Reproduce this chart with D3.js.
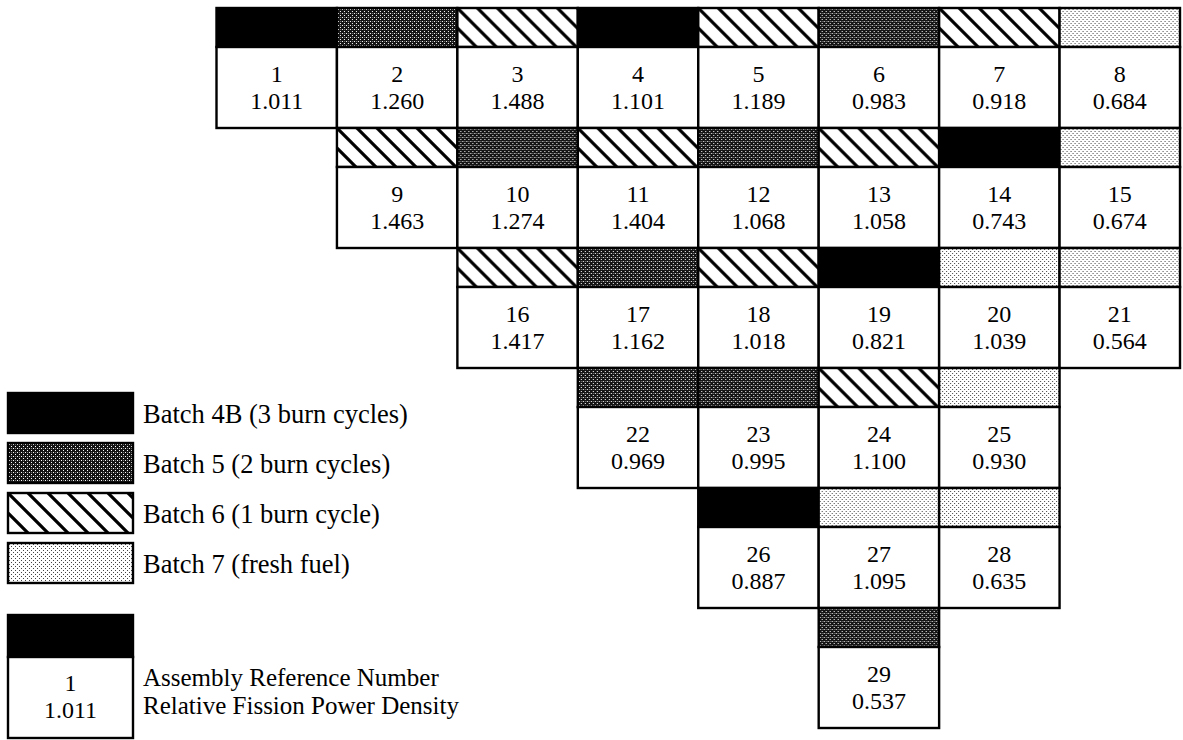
<!DOCTYPE html>
<html>
<head>
<meta charset="utf-8">
<script src="https://cdn.jsdelivr.net/npm/d3@7"></script>
<style>
  html, body { margin: 0; padding: 0; background: #fff; }
  svg { display: block; }
  text { font-family: "Liberation Serif", "Times New Roman", serif; fill: #000; }
</style>
</head>
<body>
<svg id="chart" width="1183" height="740"></svg>
<script>
// ---- data ----
const assemblyIds = [1,2,3,4,5,6,7,8, 9,10,11,12,13,14,15, 16,17,18,19,20,21, 22,23,24,25, 26,27,28, 29];
const powerDensity = ["1.011","1.260","1.488","1.101","1.189","0.983","0.918","0.684",
                      "1.463","1.274","1.404","1.068","1.058","0.743","0.674",
                      "1.417","1.162","1.018","0.821","1.039","0.564",
                      "0.969","0.995","1.100","0.930",
                      "0.887","1.095","0.635",
                      "0.537"];
const batchOf = ["4B","5","6","4B","6","5","6","7",
                 "6","5","6","5","6","4B","7",
                 "6","5","6","4B","7","7",
                 "5","5","6","7",
                 "4B","7","7",
                 "5"];
// core map layout: assemblies per row, and first column of each row
const rowCounts = [8,7,6,4,3,1];
const rowStartCol = [0,1,2,3,4,5];
const batches = ["4B","5","6","7"];
const batchLabels = ["Batch 4B (3 burn cycles)","Batch 5 (2 burn cycles)","Batch 6 (1 burn cycle)","Batch 7 (fresh fuel)"];
const keyNumber = "1";
const keyValue = "1.011";
const keyLabels = ["Assembly Reference Number","Relative Fission Power Density"];

// build cell records
const cells = [];
let k = 0;
rowCounts.forEach((n, r) => {
  for (let i = 0; i < n; i++) {
    cells.push({id: assemblyIds[k], val: powerDensity[k], batch: batchOf[k], row: r, col: rowStartCol[r] + i});
    k++;
  }
});

const svg = d3.select("#chart");
const defs = svg.append("defs");

// dark dots pattern (batch 5)
const pDark = defs.append("pattern").attr("id","pDark").attr("patternUnits","userSpaceOnUse")
  .attr("width",4).attr("height",4);
pDark.append("rect").attr("width",4).attr("height",4).attr("fill","#151515");
pDark.append("rect").attr("x",1).attr("y",1).attr("width",1).attr("height",1).attr("fill","#fff");
pDark.append("rect").attr("x",3).attr("y",3).attr("width",1).attr("height",1).attr("fill","#fff");
pDark.append("rect").attr("x",3).attr("y",1).attr("width",1).attr("height",1).attr("fill","#777");

// light dots pattern (batch 7)
const pLight = defs.append("pattern").attr("id","pLight").attr("patternUnits","userSpaceOnUse")
  .attr("width",4).attr("height",4);
pLight.append("rect").attr("width",4).attr("height",4).attr("fill","#fff");
pLight.append("rect").attr("x",1).attr("y",1).attr("width",1).attr("height",1).attr("fill","#444");
pLight.append("rect").attr("x",3).attr("y",3).attr("width",1).attr("height",1).attr("fill","#444");

// hatch pattern (batch 6)
const pHatch = defs.append("pattern").attr("id","pHatch").attr("patternUnits","userSpaceOnUse")
  .attr("width",20).attr("height",20);
pHatch.append("rect").attr("width",20).attr("height",20).attr("fill","#fff");
pHatch.append("path").attr("d","M-5,-5 L25,25 M-5,15 L5,25 M15,-5 L25,5")
  .attr("stroke","#000").attr("stroke-width",3.2);

const fillOf = {"4B":"#000", "5":"url(#pDark)", "6":"url(#pHatch)", "7":"url(#pLight)"};

// scales
const x = d3.scaleBand().domain(d3.range(8)).range([216.5, 1180]);
const y = d3.scaleBand().domain(d3.range(6)).range([8, 728]);
const headerFrac = 39/120;
const FS = 24;
const LH = 27;

const sw = 2.4;
const g = svg.append("g");
const cell = g.selectAll("g.cell").data(cells).join("g").attr("class","cell")
  .attr("transform", d => `translate(${x(d.col)},${y(d.row)})`);

const bw = x.bandwidth(), bh = y.bandwidth(), hh = bh*headerFrac;
cell.append("rect").attr("width", bw).attr("height", hh)
  .attr("fill", d => fillOf[d.batch]).attr("stroke","#000").attr("stroke-width", sw);
cell.append("rect").attr("y", hh).attr("width", bw).attr("height", bh-hh)
  .attr("fill","#fff").attr("stroke","#000").attr("stroke-width", sw);
const ct = cell.append("text").attr("y", hh+35).attr("text-anchor","middle").attr("font-size", FS);
ct.append("tspan").attr("x", bw/2).text(d => d.id);
ct.append("tspan").attr("x", bw/2).attr("dy", LH).text(d => d.val);

// legend
const ly = d3.scaleBand().domain(batches).range([393, 583]).paddingInner(0.2);
const leg = svg.append("g").selectAll("g").data(batches).join("g")
  .attr("transform", d => `translate(8,${ly(d)})`);
leg.append("rect").attr("width",125).attr("height",ly.bandwidth())
  .attr("fill", d => fillOf[d]).attr("stroke","#000").attr("stroke-width", sw);
leg.append("text").attr("x",135).attr("y",30).attr("font-size",26.5)
  .text((d,i) => batchLabels[i]);

// key cell
const key = svg.append("g").attr("transform","translate(8,615)");
key.append("rect").attr("width",125).attr("height",42).attr("fill","#000").attr("stroke","#000").attr("stroke-width",sw);
key.append("rect").attr("y",42).attr("width",125).attr("height",81).attr("fill","#fff").attr("stroke","#000").attr("stroke-width",sw);
const kt = key.append("text").attr("y",42+34).attr("text-anchor","middle").attr("font-size",FS);
kt.append("tspan").attr("x",62.5).text(keyNumber);
kt.append("tspan").attr("x",62.5).attr("dy",LH).text(keyValue);
const kl = key.append("text").attr("y",71).attr("font-size",25);
kl.selectAll("tspan").data(keyLabels).join("tspan")
  .attr("x",135).attr("dy",(d,i)=> i ? 28 : 0).text(d=>d);
</script>
</body>
</html>
